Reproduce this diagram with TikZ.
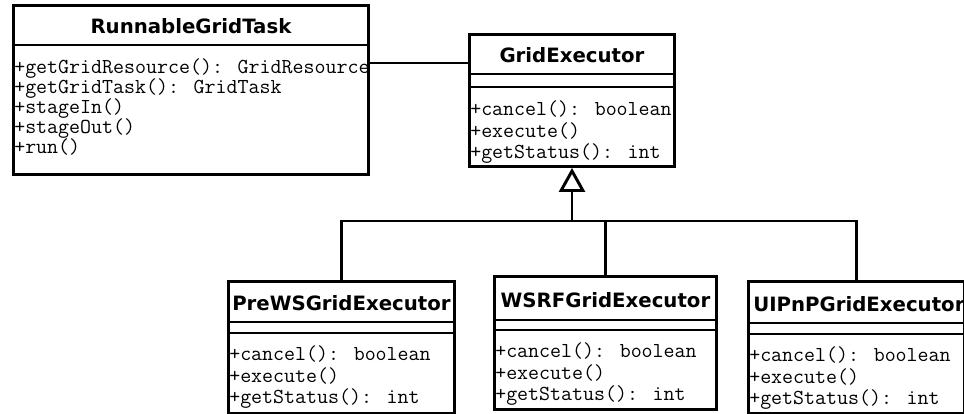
\documentclass[tikz,border=0pt]{standalone}
\usepackage{fontspec}
\newfontfamily\titlefont{DejaVu Sans}
\usetikzlibrary{arrows.meta}

\newcommand\opsfont{\ttfamily\fontsize{16}{15}\selectfont\setlength\lineskiplimit{-8pt}}
\newcommand\opsfontwide{\ttfamily\fontsize{16}{16}\selectfont\setlength\lineskiplimit{-8pt}}

\tikzset{
  classbox/.style={draw,line width=2.2pt,anchor=north west,inner sep=0pt},
  classname/.style={font={\titlefont\bfseries\fontsize{14.8}{16}\selectfont},anchor=base,inner sep=0pt},
  methods/.style={font=\opsfontwide,align=left,anchor=base west,inner sep=0pt},
  link/.style={line width=2.2pt},
  inherit/.style={line width=2.2pt,-{Triangle[open,length=18pt,width=19.5pt]}}
}

\begin{document}
\begin{tikzpicture}[x=0.75pt,y=-0.75pt]
\useasboundingbox (0,0) rectangle (964,414);

% RunnableGridTask
\node[classbox,minimum width=266.25pt,minimum height=126.75pt] (rgt) at (12,4) {};
\draw[link] (rgt.west |- 0,45) -- (rgt.east |- 0,45);
\node[classname] (rgtname) at (rgt.north |- 0,33) {RunnableGridTask};
\node[methods,font=\opsfont] (rgtops) at (14,153) {+getGridResource(): GridResource\\+getGridTask(): GridTask\\+stageIn()\\+stageOut()\\+run()};

% GridExecutor
\node[classbox,minimum width=153.75pt,minimum height=99pt] (ge) at (468,33) {};
\draw[link] (ge.west |- 0,74) -- (ge.east |- 0,74);
\draw[link] (ge.west |- 0,87) -- (ge.east |- 0,87);
\node[classname] (gename) at (ge.north |- 0,62.5) {GridExecutor};
\node[methods] (geops) at (470,158.5) {+cancel(): boolean\\+execute()\\+getStatus(): int};

% subclasses
\node[classbox,minimum width=169.5pt,minimum height=99pt] (pre) at (227,280) {};
\draw[link] (pre.west |- 0,322) -- (pre.east |- 0,322);
\draw[link] (pre.west |- 0,333) -- (pre.east |- 0,333);
\node[classname] (prename) at (pre.north |- 0,310) {PreWSGridExecutor};
\node[methods] (preops) at (229,403.5) {+cancel(): boolean\\+execute()\\+getStatus(): int};

\node[classbox,minimum width=166.5pt,minimum height=99.75pt] (wsrf) at (493,275) {};
\draw[link] (wsrf.west |- 0,320) -- (wsrf.east |- 0,320);
\draw[link] (wsrf.west |- 0,330) -- (wsrf.east |- 0,330);
\node[classname] (wsrfname) at (wsrf.north |- 0,307) {WSRFGridExecutor};
\node[methods] (wsrfops) at (495,400.5) {+cancel(): boolean\\+execute()\\+getStatus(): int};

\node[classbox,minimum width=162pt,minimum height=99pt] (ui) at (747,280) {};
\draw[link] (ui.west |- 0,323) -- (ui.east |- 0,323);
\draw[link] (ui.west |- 0,334) -- (ui.east |- 0,334);
\node[classname,anchor=base west] (uiname) at (753,311) {UIPnPGridExecutor};
\node[methods] (uiops) at (749,404.5) {+cancel(): boolean\\+execute()\\+getStatus(): int};

% association and generalization
\draw[link] (rgt.east |- 0,63) -- (ge.west |- 0,63);
\coordinate (bus) at (572,221);
\draw[inherit] (bus) -- (bus |- ge.south);
\draw[link] (pre.north) |- (bus) -| (ui.north);
\draw[link] (wsrf.north) -- (wsrf.north |- bus);
\end{tikzpicture}
\end{document}
